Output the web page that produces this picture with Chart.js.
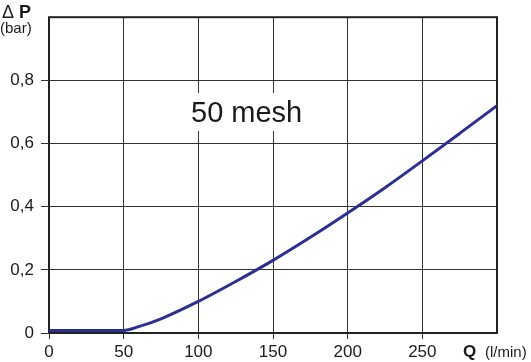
<!DOCTYPE html>
<html>
<head>
<meta charset="utf-8">
<script src="https://cdn.jsdelivr.net/npm/chart.js@4.4.1/dist/chart.umd.min.js"></script>
<style>
  html, body { margin: 0; padding: 0; background: #fff; }
  #wrap { width: 531px; height: 362px; }
</style>
</head>
<body>
<div id="wrap"><canvas id="chart" width="531" height="362"></canvas></div>
<script>
// flow rate (l/min) vs pressure drop (bar)
var flowQ = [0, 50, 60, 75, 100, 125, 150, 175, 200, 225, 250, 275, 300];
var deltaP = [0.008, 0.008, 0.02, 0.045, 0.1, 0.163, 0.23, 0.303, 0.38, 0.46, 0.545, 0.632, 0.72];
var xTicks = [0, 50, 100, 150, 200, 250];
var yTicks = ['0', '0,2', '0,4', '0,6', '0,8'];

var FONT = "'Liberation Sans', Arial, sans-serif";
Chart.defaults.font.family = FONT;
Chart.defaults.color = '#1a1a1a';

var points = [];
for (var i = 0; i < flowQ.length; i++) {
  points.push({x: flowQ[i], y: deltaP[i]});
}

// frame, title box and axis captions
var decor = {
  id: 'decor',
  beforeDatasetsDraw: function(chart) {
    var ctx = chart.ctx, a = chart.chartArea;
    ctx.save();
    // white box behind the label breaks the grid
    ctx.fillStyle = '#fff';
    ctx.fillRect(187, 93, 122, 38);
    ctx.fillStyle = '#1a1a1a';
    ctx.font = '29px ' + FONT;
    ctx.textBaseline = 'alphabetic';
    ctx.fillText('50 mesh', 191, 122);
    // frame
    ctx.strokeStyle = '#222';
    ctx.lineWidth = 2;
    ctx.strokeRect(a.left, a.top, a.right - a.left, a.bottom - a.top);
    ctx.restore();
  },
  afterDraw: function(chart) {
    var ctx = chart.ctx;
    ctx.save();
    ctx.fillStyle = '#1a1a1a';
    ctx.textBaseline = 'alphabetic';
    ctx.font = '18px ' + FONT;
    ctx.fillText('\u0394', 2, 18);
    ctx.font = 'bold 18px ' + FONT;
    ctx.fillText('P', 19, 18);
    ctx.font = '15px ' + FONT;
    ctx.fillText('(bar)', 0, 33);
    ctx.font = 'bold 17px ' + FONT;
    ctx.fillText('Q', 463, 357);
    ctx.font = '15px ' + FONT;
    ctx.fillText('(l/min)', 485, 357);
    ctx.restore();
  }
};

var ctx = document.getElementById('chart').getContext('2d');
var chart = new Chart(ctx, {
  type: 'line',
  data: {
    datasets: [{
      data: points,
      borderColor: '#2b2f8f',
      borderWidth: 3,
      pointRadius: 0,
      fill: false,
      cubicInterpolationMode: 'monotone'
    }]
  },
  options: {
    responsive: false,
    animation: false,
    layout: { padding: { top: 16, right: 34, left: 0, bottom: 0 } },
    plugins: { legend: { display: false }, tooltip: { enabled: false } },
    scales: {
      x: {
        type: 'linear',
        min: 0,
        max: 300,
        afterFit: function(s) { s.height = 29; },
        afterBuildTicks: function(s) {
          s.ticks = [0, 50, 100, 150, 200, 250, 300].map(function(v) { return {value: v}; });
        },
        ticks: {
          font: { size: 17 },
          padding: 3,
          maxRotation: 0,
          callback: function(v) { return xTicks.indexOf(v) >= 0 ? String(v) : ''; }
        },
        grid: {
          color: '#333',
          lineWidth: 1,
          tickLength: 6,
          tickColor: function(c) { return c.tick && c.tick.value === 300 ? 'rgba(0,0,0,0)' : '#333'; }
        },
        border: { display: false }
      },
      y: {
        min: 0,
        max: 1,
        afterFit: function(s) { s.width = 49; },
        afterBuildTicks: function(s) {
          s.ticks = [0, 0.2, 0.4, 0.6, 0.8, 1].map(function(v) { return {value: v}; });
        },
        ticks: {
          font: { size: 17 },
          padding: 7,
          callback: function(v, idx) { return idx < yTicks.length ? yTicks[idx] : ''; }
        },
        grid: {
          color: '#333',
          lineWidth: 1,
          tickLength: 8,
          tickColor: function(c) { return c.tick && c.tick.value === 1 ? 'rgba(0,0,0,0)' : '#333'; }
        },
        border: { display: false }
      }
    }
  },
  plugins: [decor]
});
</script>
</body>
</html>
